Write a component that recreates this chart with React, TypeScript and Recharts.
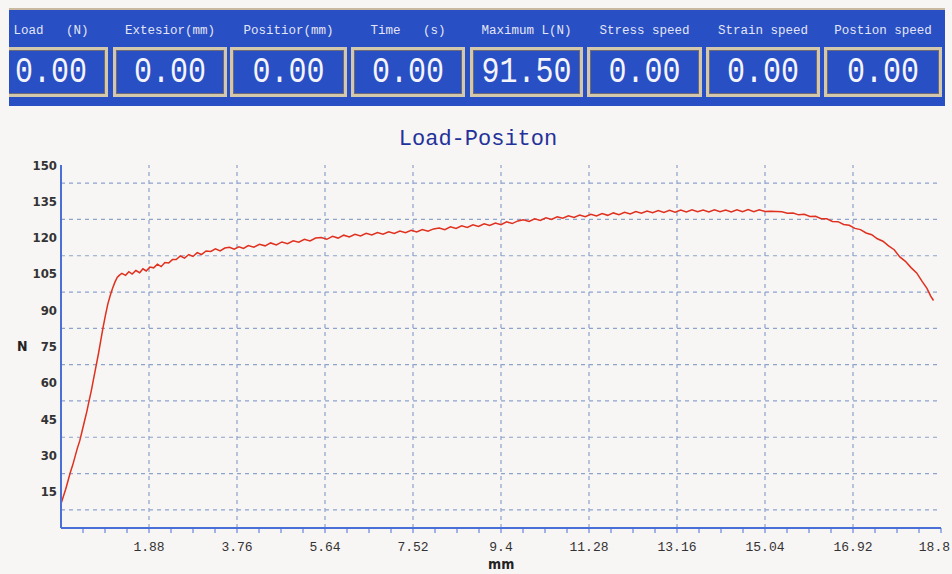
import React from 'react';
import { LineChart, Line, XAxis, YAxis, ReferenceLine } from 'recharts';

// header readouts
const headerLabels = [
  'Load   (N)',
  'Extesior(mm)',
  'Positior(mm)',
  'Time   (s)',
  'Maximum L(N)',
  'Stress speed',
  'Strain speed',
  'Postion speed',
];
const headerValues = ['0.00', '0.00', '0.00', '0.00', '91.50', '0.00', '0.00', '0.00'];

// axis ticks
const xMajorTicks = [1.88, 3.76, 5.64, 7.52, 9.4, 11.28, 13.16, 15.04, 16.92, 18.8];
const yTicks = [15, 30, 45, 60, 75, 90, 105, 120, 135, 150];
const yGridValues = [7.5, 22.5, 37.5, 52.5, 67.5, 82.5, 97.5, 112.5, 127.5, 142.5];

// load (N) vs position (mm)
const curve: [number, number][] = [
  [0.0, 10], [0.05, 13], [0.1, 16], [0.15, 19.5], [0.2, 23], [0.25, 26], [0.3, 29.5],
  [0.35, 33], [0.4, 36], [0.45, 40], [0.5, 44], [0.55, 48], [0.6, 52.5], [0.65, 57],
  [0.7, 62], [0.75, 67], [0.8, 72], [0.85, 77.5], [0.9, 83], [0.95, 88], [1.0, 92.5],
  [1.05, 96], [1.1, 99], [1.15, 101.5], [1.2, 103.5], [1.25, 104.5],
  [1.3, 105.2], [1.38, 104.4], [1.45, 105.9], [1.52, 104.9], [1.6, 106.4], [1.68, 105.5],
  [1.75, 107.1], [1.82, 106.2], [1.9, 107.8], [1.98, 107.5], [2.06, 109.0], [2.14, 108.0],
  [2.22, 109.7], [2.3, 109.5], [2.38, 110.9], [2.46, 110.9], [2.55, 112.4], [2.64, 111.5],
  [2.73, 113.0], [2.82, 112.2], [2.91, 113.8], [3.0, 113.0], [3.1, 114.5], [3.2, 114.3],
  [3.3, 115.4], [3.4, 114.5], [3.5, 115.7], [3.6, 116.0], [3.7, 115.2], [3.8, 116.2],
  [3.9, 115.5], [4.0, 116.7], [4.12, 116.0], [4.24, 117.2], [4.36, 116.6], [4.48, 117.8],
  [4.6, 117.0], [4.72, 118.2], [4.84, 117.5], [4.96, 118.7], [5.08, 118.1], [5.2, 119.3],
  [5.32, 118.6], [5.44, 119.8], [5.56, 120.0], [5.68, 119.3], [5.8, 120.5], [5.92, 119.8],
  [6.04, 121.0], [6.16, 120.3], [6.28, 121.4], [6.4, 120.7], [6.52, 121.8], [6.64, 121.1],
  [6.76, 122.1], [6.88, 121.4], [7.0, 122.4], [7.12, 121.7], [7.24, 122.7], [7.36, 122.0],
  [7.48, 123.0], [7.6, 122.3], [7.72, 123.3], [7.84, 122.6], [7.96, 123.6], [8.08, 124.0],
  [8.2, 123.3], [8.32, 124.5], [8.44, 123.8], [8.56, 124.9], [8.68, 124.2], [8.8, 125.3],
  [8.92, 124.6], [9.04, 125.7], [9.16, 125.0], [9.28, 126.0], [9.4, 125.3], [9.52, 126.5],
  [9.64, 125.8], [9.76, 126.9], [9.88, 127.4], [10.0, 126.7], [10.12, 127.8], [10.24, 127.1],
  [10.36, 128.2], [10.48, 127.5], [10.6, 128.6], [10.72, 128.0], [10.84, 129.0], [10.96, 128.3],
  [11.08, 129.3], [11.2, 128.6], [11.32, 129.6], [11.44, 128.9], [11.56, 129.9], [11.68, 129.2],
  [11.8, 130.2], [11.92, 129.5], [12.04, 130.5], [12.16, 129.8], [12.28, 130.8], [12.4, 130.1],
  [12.52, 131.0], [12.64, 130.3], [12.76, 131.2], [12.88, 130.4], [13.0, 131.3], [13.12, 130.5],
  [13.24, 131.4], [13.36, 130.6], [13.48, 131.5], [13.6, 130.7], [13.72, 131.4], [13.84, 130.6],
  [13.96, 131.5], [14.08, 130.7], [14.2, 131.4], [14.32, 130.6], [14.44, 131.5], [14.56, 130.7],
  [14.68, 131.6], [14.8, 130.7], [14.92, 131.5], [15.04, 130.8], [15.16, 130.9], [15.28, 130.8],
  [15.4, 130.7], [15.52, 130.1], [15.64, 130.2], [15.76, 129.4], [15.88, 129.6], [16.0, 128.7],
  [16.12, 128.8], [16.24, 127.8], [16.36, 127.8], [16.48, 126.7], [16.6, 126.6], [16.72, 125.4],
  [16.84, 125.1], [16.96, 123.8], [17.08, 123.3], [17.2, 121.9], [17.32, 121.2], [17.44, 119.5],
  [17.56, 118.5], [17.68, 116.6], [17.8, 115.0], [17.92, 112.0], [18.04, 110.2], [18.16, 107.6],
  [18.28, 105.4], [18.4, 101.8], [18.5, 99.0], [18.58, 95.8], [18.64, 94.0],
];

const data = curve.map(([x, y]) => ({ x, y }));

// minor ticks: 4 subdivisions per major step
const xAllTicks = Array.from({ length: 40 }, (_, i) => +((i + 1) * 0.47).toFixed(2));

const AXIS = '#4a6fd6';
const GRID = '#8ea3cc';
const MONO = "'Liberation Mono', 'DejaVu Sans Mono', monospace";
const NARROW = "'Liberation Sans Narrow', 'DejaVu Sans Condensed', 'Liberation Sans', sans-serif";

const boxLeft = [-6, 113, 230, 351, 470, 587, 706, 824];
const boxRight = [108, 227, 347, 465, 583, 702, 820, 942];

const XTick = ({ x, y, payload }: any) => {
  const v = payload.value;
  if (!xMajorTicks.includes(v)) return null;
  // last label sits at the page edge, keep it inside
  const isLast = v === xMajorTicks[xMajorTicks.length - 1];
  return (
    <text x={isLast ? 950 : x} y={y + 12} textAnchor={isLast ? 'end' : 'middle'} dominantBaseline="central"
      fontFamily={MONO} fontSize={13} fill="#333">
      {v}
    </text>
  );
};

const YTick = ({ x, y, payload }: any) => (
  <text x={x} y={y} textAnchor="end" dominantBaseline="central"
    fontFamily={NARROW} fontWeight="bold" fontSize={13} fill="#333">
    {payload.value}
  </text>
);

export default function App() {
  return (
    <div style={{ position: 'absolute', left: 0, top: 0, width: 952, height: 574, background: '#f8f5f5', overflow: 'hidden' }}>
      <div style={{ position: 'absolute', left: 0, top: 0 }}>
        <LineChart width={952} height={574} data={data} margin={{ top: 165, right: 11, bottom: 16, left: 0 }}>
          {yGridValues.map((v) => (
            <ReferenceLine key={`h${v}`} y={v} stroke={GRID} strokeDasharray="4 4" strokeWidth={1.2} />
          ))}
          {xMajorTicks.slice(0, -1).map((v) => (
            <ReferenceLine key={`v${v}`} x={v} stroke={GRID} strokeDasharray="4 4" strokeWidth={1.2} />
          ))}
          <XAxis
            dataKey="x"
            type="number"
            domain={[0, 18.8]}
            ticks={xAllTicks}
            interval={0}
            height={30}
            tickSize={5}
            tickMargin={2}
            axisLine={{ stroke: AXIS, strokeWidth: 2 }}
            tickLine={{ stroke: AXIS }}
            tick={<XTick />}
            allowDataOverflow
          />
          <YAxis
            type="number"
            domain={[0, 150]}
            ticks={yTicks}
            interval={0}
            width={61}
            tickSize={0}
            tickMargin={4}
            axisLine={{ stroke: AXIS, strokeWidth: 2 }}
            tickLine={false}
            tick={<YTick />}
            allowDataOverflow
          />
          <Line
            type="linear"
            dataKey="y"
            stroke="#e0301e"
            strokeWidth={1.5}
            dot={false}
            isAnimationActive={false}
          />
        </LineChart>
      </div>

      {/* header panel */}
      <div style={{ position: 'absolute', left: 9, top: 8, width: 936, height: 96, background: '#284fc4', borderTop: '2px solid #c9b9a0', overflow: 'hidden', zIndex: 2 }}>
        {headerLabels.map((label, i) => (
          <div key={label} style={{
            position: 'absolute', left: boxLeft[i] - 9, width: boxRight[i] - boxLeft[i], top: 14,
            textAlign: 'center', fontFamily: MONO, fontSize: 12.5, color: '#e4e6f4', whiteSpace: 'pre',
          }}>{label}</div>
        ))}
        {headerValues.map((val, i) => (
          <div key={i} style={{
            position: 'absolute', left: boxLeft[i] - 9, width: boxRight[i] - boxLeft[i] - 6, top: 37, height: 44,
            border: '3px solid #d3c7ac', boxShadow: 'inset 0 0 0 1px #6f6a78',
            display: 'flex', alignItems: 'center', justifyContent: 'center',
          }}>
            <span style={{ fontFamily: MONO, fontSize: 30, color: '#f4f4fa', transform: 'scaleY(1.22)', display: 'inline-block' }}>{val}</span>
          </div>
        ))}
      </div>

      {/* title and axis names */}
      <div style={{ position: 'absolute', left: 0, width: 956, top: 127, textAlign: 'center', fontFamily: MONO, fontSize: 22, color: '#23329a', zIndex: 2 }}>
        Load-Positon
      </div>
      <div style={{ position: 'absolute', left: 17, top: 338, fontFamily: NARROW, fontWeight: 'bold', fontSize: 14, color: '#222' }}>N</div>
      <div style={{ position: 'absolute', left: 488, top: 556, fontFamily: NARROW, fontWeight: 'bold', fontSize: 14, color: '#222' }}>mm</div>
    </div>
  );
}
